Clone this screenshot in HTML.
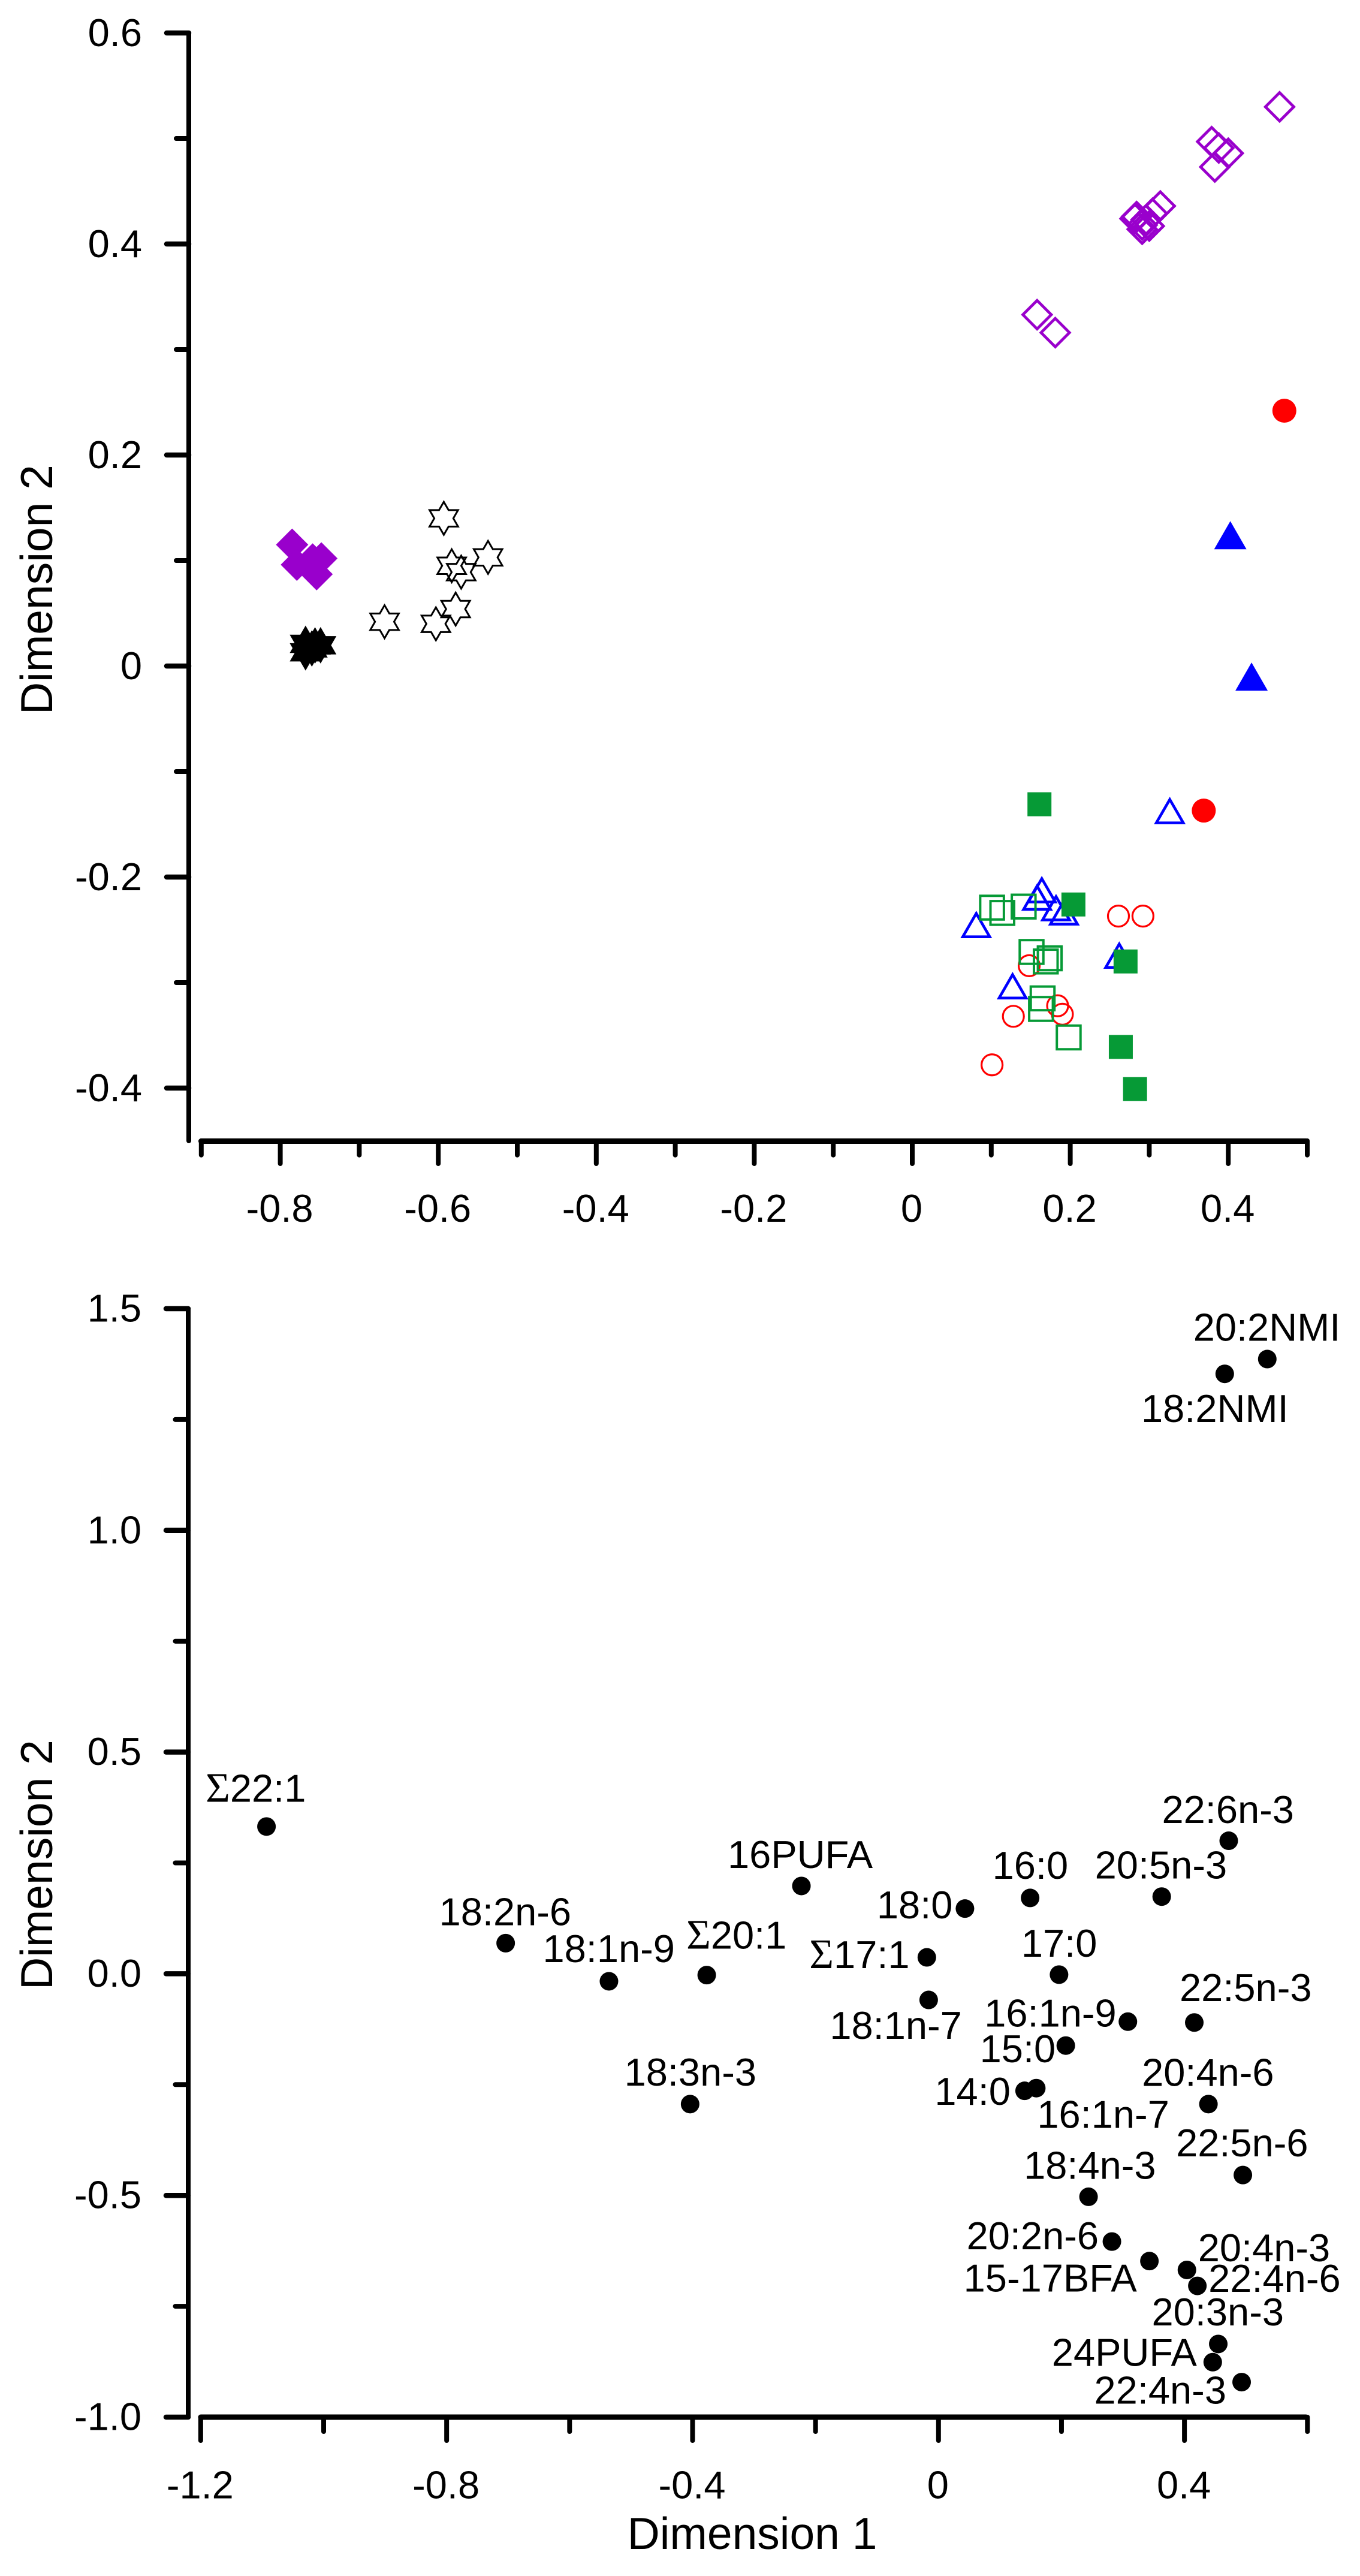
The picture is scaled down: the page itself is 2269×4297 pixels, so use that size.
<!DOCTYPE html>
<html lang="en">
<head>
<meta charset="utf-8">
<title>Two-panel scatter plots of Dimension 1 against Dimension 2</title>
<style>
  html, body { margin: 0; padding: 0; background: #fff; }
  svg { display: block; }
  text { font-family: "Liberation Sans", Arial, sans-serif; fill: #000; }
</style>
</head>
<body>
<svg id="figure" xmlns="http://www.w3.org/2000/svg" width="2269" height="4297" viewBox="0 0 2269 4297">
  <rect x="0" y="0" width="2269" height="4297" fill="#fff"/>
  <g id="top-panel">
    <text transform="translate(87,1192) rotate(-90)" font-size="75">Dimension 2</text>
  </g>
  <g id="bottom-panel">
    <text transform="translate(87,3319) rotate(-90)" font-size="75">Dimension 2</text>
    <text x="1255" y="4252" font-size="75" text-anchor="middle">Dimension 1</text>
  </g>
</svg>
<script>
// ---------- Top panel data ----------
const topXMajorTicks = [-0.8, -0.6, -0.4, -0.2, 0, 0.2, 0.4];
const topXTickLabels = ["-0.8", "-0.6", "-0.4", "-0.2", "0", "0.2", "0.4"];
const topXMinorTicks = [-0.9, -0.7, -0.5, -0.3, -0.1, 0.1, 0.3, 0.5];
const topYMajorTicks = [0.6, 0.4, 0.2, 0, -0.2, -0.4];
const topYTickLabels = ["0.6", "0.4", "0.2", "0", "-0.2", "-0.4"];
const topYMinorTicks = [0.5, 0.3, 0.1, -0.1, -0.3];

const redOpenX = [0.261, 0.292, 0.148, 0.184, 0.190, 0.128, 0.101];
const redOpenY = [-0.237, -0.237, -0.284, -0.322, -0.330, -0.332, -0.378];
const blueOpenX = [0.326, 0.164, 0.158, 0.182, 0.192, 0.081, 0.262, 0.127];
const blueOpenY = [-0.137, -0.212, -0.219, -0.229, -0.233, -0.245, -0.274, -0.303];
const greenOpenX = [0.101, 0.114, 0.141, 0.151, 0.169, 0.174, 0.165, 0.163, 0.198];
const greenOpenY = [-0.229, -0.234, -0.228, -0.271, -0.280, -0.277, -0.315, -0.325, -0.352];
const greenFilledX = [0.161, 0.204, 0.270, 0.264, 0.282];
const greenFilledY = [-0.131, -0.226, -0.280, -0.361, -0.401];
const redFilledX = [0.369, 0.471];
const redFilledY = [-0.137, 0.242];
const blueFilledX = [0.4026, 0.4295];
const blueFilledY = [0.124, -0.010];
const purpleOpenX = [0.465, 0.379, 0.388, 0.400, 0.383, 0.314, 0.284, 0.282, 0.304, 0.296, 0.291, 0.300, 0.291, 0.158, 0.181];
const purpleOpenY = [0.530, 0.497, 0.491, 0.486, 0.473, 0.436, 0.426, 0.424, 0.429, 0.423, 0.418, 0.417, 0.414, 0.333, 0.316];
const purpleFilledX = [-0.785, -0.779, -0.759, -0.748, -0.754];
const purpleFilledY = [0.115, 0.096, 0.101, 0.102, 0.087];
const starOpenX = [-0.593, -0.583, -0.571, -0.537, -0.578, -0.603, -0.668];
const starOpenY = [0.140, 0.095, 0.089, 0.103, 0.054, 0.040, 0.042];
const starFilledX = [-0.768, -0.768, -0.756, -0.749, -0.760];
const starFilledY = [0.021, 0.013, 0.0195, 0.0197, 0.0167];

// ---------- Bottom panel data ----------
const bottomXMajorTicks = [-1.2, -0.8, -0.4, 0, 0.4];
const bottomXTickLabels = ["-1.2", "-0.8", "-0.4", "0", "0.4"];
const bottomXMinorTicks = [-1.0, -0.6, -0.2, 0.2, 0.6];
const bottomYMajorTicks = [1.5, 1.0, 0.5, 0.0, -0.5, -1.0];
const bottomYTickLabels = ["1.5", "1.0", "0.5", "0.0", "-0.5", "-1.0"];
const bottomYMinorTicks = [1.25, 0.75, 0.25, -0.25, -0.75];

const fattyAcidNames = ["22:6n-3", "16PUFA", "16:0", "20:5n-3", "18:0", "Σ20:1", "Σ17:1", "17:0", "18:1n-7", "16:1n-9", "22:5n-3", "15:0", "14:0", "16:1n-7", "20:4n-6", "18:3n-3", "22:5n-6", "18:4n-3", "20:2n-6", "15-17BFA", "20:4n-3", "22:4n-6", "20:3n-3", "24PUFA", "22:4n-3", "Σ22:1", "18:2n-6", "18:1n-9", "20:2NMI", "18:2NMI"];
const fattyAcidX = [0.472, -0.223, 0.149, 0.363, 0.043, -0.377, -0.019, 0.196, -0.016, 0.308, 0.416, 0.207, 0.140, 0.159, 0.439, -0.404, 0.495, 0.244, 0.282, 0.343, 0.404, 0.421, 0.455, 0.446, 0.493, -1.093, -0.704, -0.536, 0.5347, 0.4655];
const fattyAcidY = [0.300, 0.198, 0.171, 0.174, 0.147, -0.003, 0.037, -0.002, -0.059, -0.108, -0.110, -0.162, -0.264, -0.258, -0.294, -0.294, -0.454, -0.503, -0.604, -0.648, -0.668, -0.704, -0.835, -0.876, -0.921, 0.332, 0.069, -0.017, 1.3864, 1.3530];

// ---------- Layout (not data): label placement relative to each point ----------
const labelLayout = {
  "22:6n-3": [-111.5, -29.5], "16PUFA": [-123, -30], "16:0": [-63, -32], "20:5n-3": [-111.5, -30],
  "18:0": [-147, 16.5], "Σ20:1": [-34, -44], "Σ17:1": [-196, 18], "17:0": [-63, -30],
  "18:1n-7": [-165, 65], "16:1n-9": [-239.5, 8], "22:5n-3": [-24.5, -36], "15:0": [-143.5, 28],
  "14:0": [-150, 23.5], "16:1n-7": [1.5, 66.5], "20:4n-6": [-111, -30.5], "18:3n-3": [-109.8, -31],
  "22:5n-6": [-111.5, -31.4], "18:4n-3": [-108, -30], "20:2n-6": [-242.5, 12.7], "15-17BFA": [-310, 51],
  "20:4n-3": [18.5, -14.7], "22:4n-6": [18.5, 10], "20:3n-3": [-111, -31], "24PUFA": [-268.5, 6],
  "22:4n-3": [-246, 36], "Σ22:1": [-101.5, -41.5], "18:2n-6": [-111, -30], "18:1n-9": [-110.5, -32],
  "20:2NMI": [-123.6, -30.3], "18:2NMI": [-139.3, 80.3]
};

// ---------- Axis functions ----------
function topX(v) { return 1522 + 1318 * v; }
function topY(v) { return 1111 - 1760 * v; }
function bottomX(v) { return 1565.8 + 1025.8 * v; }
function bottomY(v) { return 3292.4 - 739.6 * v; }

const NS = "http://www.w3.org/2000/svg";
const topPanel = document.getElementById("top-panel");
const bottomPanel = document.getElementById("bottom-panel");

function make(tag, parent, attrs) {
  const el = document.createElementNS(NS, tag);
  for (const key in attrs) {
    el.setAttribute(key, attrs[key]);
  }
  parent.appendChild(el);
  return el;
}

// ---------- Marker shapes ----------
function polyPoints(list) {
  return list.map(function (p) { return p[0].toFixed(2) + "," + p[1].toFixed(2); }).join(" ");
}
function trianglePoints(cx, cy, w, h, shift) {
  return polyPoints([[cx, cy + shift - h / 2], [cx + w / 2, cy + shift + h / 2], [cx - w / 2, cy + shift + h / 2]]);
}
function diamondPoints(cx, cy, r) {
  return polyPoints([[cx, cy - r], [cx + r, cy], [cx, cy + r], [cx - r, cy]]);
}
function starPoints(cx, cy, R) {
  const inner = R / Math.sqrt(3);
  const pts = [];
  for (let i = 0; i < 12; i++) {
    const a = -Math.PI / 2 + i * Math.PI / 6;
    const r = i % 2 === 0 ? R : inner;
    pts.push([cx + r * Math.cos(a), cy + r * Math.sin(a)]);
  }
  return polyPoints(pts);
}

// ---------- Axes ----------
function tickAttrs(x1, y1, x2, y2, width) {
  return { x1: x1, y1: y1, x2: x2, y2: y2, stroke: "#000", "stroke-width": width, "stroke-linecap": "round" };
}

// Top panel axes
const topAxes = make("g", topPanel, {});



const topYLine = make("line", topAxes, tickAttrs(315, 55, 315, 1903, 8));



const topXLine = make("line", topAxes, tickAttrs(335.5, 1903.5, 2179, 1903.5, 9));



topYMajorTicks.forEach(function (v, i) {
  const tick = make("line", topAxes, tickAttrs(278, topY(v), 315, topY(v), 8.5));
  
  
  const label = make("text", topAxes, { x: 237, y: topY(v) + 22, "font-size": 65, "text-anchor": "end" });
  label.textContent = topYTickLabels[i];
  
  
});
topYMinorTicks.forEach(function (v) {
  const tick = make("line", topAxes, tickAttrs(294, topY(v), 315, topY(v), 8));
  
  
});
topXMajorTicks.forEach(function (v, i) {
  const tick = make("line", topAxes, tickAttrs(topX(v), 1903, topX(v), 1941, 8));
  
  
  const label = make("text", topAxes, { x: topX(v) - 1, y: 2038, "font-size": 65, "text-anchor": "middle" });
  label.textContent = topXTickLabels[i];
  
  
});
topXMinorTicks.forEach(function (v) {
  const tick = make("line", topAxes, tickAttrs(topX(v), 1903, topX(v), 1926.7, 8));
  
  
});

// Top panel series, back to front
const seriesRedOpen = make("g", topPanel, {});


redOpenX.forEach(function (v, i) {
  const m = make("circle", seriesRedOpen, { cx: topX(v), cy: topY(redOpenY[i]), r: 17.5, fill: "none", stroke: "#ff0000", "stroke-width": 3.2 });
  
  
});

const seriesBlueOpen = make("g", topPanel, {});


blueOpenX.forEach(function (v, i) {
  const m = make("polygon", seriesBlueOpen, { points: trianglePoints(topX(v), topY(blueOpenY[i]), 45, 39, 1), fill: "none", stroke: "#0000ff", "stroke-width": 4.6 });
  
  
});

const seriesGreenOpen = make("g", topPanel, {});


greenOpenX.forEach(function (v, i) {
  const m = make("rect", seriesGreenOpen, { x: topX(v) - 19.75, y: topY(greenOpenY[i]) - 19.75, width: 39.5, height: 39.5, fill: "none", stroke: "#069a36", "stroke-width": 4 });
  
  
});

const seriesGreenFilled = make("g", topPanel, {});


greenFilledX.forEach(function (v, i) {
  const m = make("rect", seriesGreenFilled, { x: topX(v) - 20, y: topY(greenFilledY[i]) - 20, width: 40, height: 40, fill: "#069a36" });
  
  
});

const seriesRedFilled = make("g", topPanel, {});


redFilledX.forEach(function (v, i) {
  const m = make("circle", seriesRedFilled, { cx: topX(v), cy: topY(redFilledY[i]), r: 20, fill: "#ff0000" });
  
  
});

const seriesBlueFilled = make("g", topPanel, {});


blueFilledX.forEach(function (v, i) {
  const m = make("polygon", seriesBlueFilled, { points: trianglePoints(topX(v), topY(blueFilledY[i]), 54, 47, 0), fill: "#0000ff" });
  
  
});

const seriesPurpleOpen = make("g", topPanel, {});


purpleOpenX.forEach(function (v, i) {
  const m = make("polygon", seriesPurpleOpen, { points: diamondPoints(topX(v), topY(purpleOpenY[i]), 23.7), fill: "none", stroke: "#9900cc", "stroke-width": 4.7 });
  
  
});

const seriesPurpleFilled = make("g", topPanel, {});


purpleFilledX.forEach(function (v, i) {
  const m = make("polygon", seriesPurpleFilled, { points: diamondPoints(topX(v), topY(purpleFilledY[i]), 27), fill: "#9900cc" });
  
  
});

const seriesStarOpen = make("g", topPanel, {});


starOpenX.forEach(function (v, i) {
  const m = make("polygon", seriesStarOpen, { points: starPoints(topX(v), topY(starOpenY[i]), 27.5), fill: "none", stroke: "#000", "stroke-width": 3, "stroke-miterlimit": 10 });
  
  
});

const seriesStarFilled = make("g", topPanel, {});


starFilledX.forEach(function (v, i) {
  const m = make("polygon", seriesStarFilled, { points: starPoints(topX(v), topY(starFilledY[i]), 30.5), fill: "#000" });
  
  
});

// Bottom panel axes
const bottomAxes = make("g", bottomPanel, {});



const bottomYLine = make("line", bottomAxes, tickAttrs(314, 2183, 314, 4032, 8));



const bottomXLine = make("line", bottomAxes, tickAttrs(335, 4032, 2179, 4032, 9));



bottomYMajorTicks.forEach(function (v, i) {
  const tick = make("line", bottomAxes, tickAttrs(277, bottomY(v), 314, bottomY(v), 8.5));
  
  
  const label = make("text", bottomAxes, { x: 236, y: bottomY(v) + 21.5, "font-size": 65, "text-anchor": "end" });
  label.textContent = bottomYTickLabels[i];
  
  
});
bottomYMinorTicks.forEach(function (v) {
  const tick = make("line", bottomAxes, tickAttrs(292.5, bottomY(v), 314, bottomY(v), 8));
  
  
});
bottomXMajorTicks.forEach(function (v, i) {
  const tick = make("line", bottomAxes, tickAttrs(bottomX(v), 4032, bottomX(v), 4071, 8));
  
  
  const label = make("text", bottomAxes, { x: bottomX(v) - 1, y: 4167.5, "font-size": 65, "text-anchor": "middle" });
  label.textContent = bottomXTickLabels[i];
  
  
});
bottomXMinorTicks.forEach(function (v) {
  const tick = make("line", bottomAxes, tickAttrs(bottomX(v), 4032, bottomX(v), 4056, 8));
  
  
});

// Bottom panel points and labels
const fattyAcidPoints = make("g", bottomPanel, {});


fattyAcidNames.forEach(function (name, i) {
  const px = bottomX(fattyAcidX[i]);
  const py = bottomY(fattyAcidY[i]);
  const dot = make("circle", fattyAcidPoints, { cx: px, cy: py, r: 15.5, fill: "#000" });
  
  
  const offset = labelLayout[name];
  const label = make("text", fattyAcidPoints, { x: px + offset[0], y: py + offset[1], "font-size": 65 });
  
  
  if (name.charAt(0) === "Σ") {
    const sigma = make("tspan", label, { "font-family": "\"Liberation Serif\", serif", "font-size": 70 });
    sigma.textContent = "Σ";
    
    
    const rest = make("tspan", label, {});
    rest.textContent = name.slice(1);
    
    
  } else {
    label.textContent = name;
  }
});
</script>
</body>
</html>
